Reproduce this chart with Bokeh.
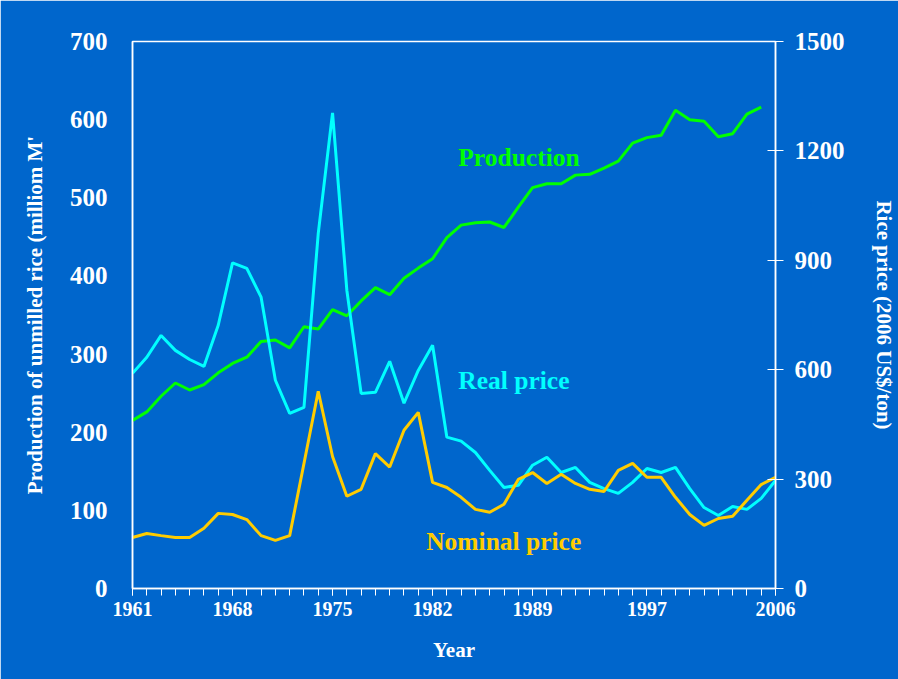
from bokeh.plotting import figure
from bokeh.models import Range1d, LinearAxis, FixedTicker, Label
from bokeh.embed import file_html
from bokeh.resources import INLINE

# ---- data ----
years = list(range(1961, 2007))
prod_years = list(range(1961, 2006))
production = [215, 226, 246, 263, 254, 261, 276, 288, 296, 316, 318, 308, 335, 332, 357,
              349, 368, 385, 376, 397, 410, 422, 449, 465, 468, 469, 462, 488, 513, 518,
              518, 529, 530, 538, 547, 570, 577, 580, 612, 600, 598, 578, 582, 607, 616]
real_price = [590, 634, 694, 653, 628, 609, 722, 893, 878, 799, 571, 480, 497, 974, 1304,
              818, 535, 538, 623, 508, 598, 667, 415, 404, 373, 324, 277, 283, 338, 360,
              318, 332, 291, 274, 261, 291, 329, 318, 332, 274, 222, 200, 225, 217, 247, 296]
nominal_price = [140, 151, 145, 140, 140, 165, 206, 203, 189, 145, 132, 145, 343, 541, 362,
                 253, 272, 370, 333, 434, 483, 291, 277, 250, 217, 209, 231, 299, 318, 288,
                 313, 288, 272, 266, 324, 343, 305, 305, 250, 203, 173, 192, 198, 242, 285, 305]
x_ticks = [1961, 1968, 1975, 1982, 1989, 1997, 2006]
left_ticks = [0, 100, 200, 300, 400, 500, 600, 700]
right_ticks = [0, 300, 600, 900, 1200, 1500]

BG = "#0066CC"
FONT = "Liberation Serif"

p = figure(width=898, height=679, x_range=Range1d(1961, 2006), y_range=Range1d(0, 700),
           output_backend="svg", toolbar_location=None,
           background_fill_color=BG, border_fill_color=BG,
           min_border_left=132, min_border_right=118, min_border_top=41, min_border_bottom=91)
p.grid.visible = False
p.outline_line_color = "white"
p.outline_line_width = 1.5
p.extra_y_ranges = {"price": Range1d(0, 1500)}

# bottom axis
xa = p.xaxis[0]
xa.ticker = FixedTicker(ticks=x_ticks, minor_ticks=years)
xa.axis_label = "Year"
xa.axis_line_color = "white"
xa.axis_line_width = 1.5
xa.major_tick_line_color = "white"
xa.minor_tick_line_color = "white"
xa.major_tick_in = 0
xa.major_tick_out = 7
xa.minor_tick_in = 0
xa.minor_tick_out = 7
xa.major_label_text_font = FONT
xa.major_label_text_font_style = "bold"
xa.major_label_text_font_size = "20px"
xa.major_label_text_color = "white"
xa.major_label_standoff = 6
xa.axis_label_text_font = FONT
xa.axis_label_text_font_style = "bold"
xa.axis_label_text_font_size = "21px"
xa.axis_label_text_color = "white"
xa.axis_label_standoff = 19

# left axis
ya = p.yaxis[0]
ya.ticker = FixedTicker(ticks=left_ticks)
ya.axis_label = "Production of unmilled rice (milliom M'"
ya.axis_line_color = "white"
ya.axis_line_width = 1.5
ya.major_tick_line_color = None
ya.minor_tick_line_color = None
ya.major_label_text_font = FONT
ya.major_label_text_font_style = "bold"
ya.major_label_text_font_size = "25px"
ya.major_label_text_color = "white"
ya.major_label_standoff = 19
ya.axis_label_text_font = FONT
ya.axis_label_text_font_style = "bold"
ya.axis_label_text_font_size = "21px"
ya.axis_label_text_color = "white"
ya.axis_label_standoff = 20

# right axis
ra = LinearAxis(y_range_name="price", ticker=FixedTicker(ticks=right_ticks),
                axis_label="Rice price (2006 US$/ton)")
ra.axis_line_color = "white"
ra.axis_line_width = 1.5
ra.major_tick_line_color = "white"
ra.major_tick_in = 8
ra.major_tick_out = 8
ra.minor_tick_line_color = None
ra.major_label_text_font = FONT
ra.major_label_text_font_style = "bold"
ra.major_label_text_font_size = "25px"
ra.major_label_text_color = "white"
ra.major_label_standoff = 11
ra.axis_label_text_font = FONT
ra.axis_label_text_font_style = "bold"
ra.axis_label_text_font_size = "21px"
ra.axis_label_text_color = "white"
ra.axis_label_standoff = 24
p.add_layout(ra, "right")

# lines
p.line(prod_years, production, line_color="#00FF00", line_width=3)
p.line(years, real_price, y_range_name="price", line_color="#00FFFF", line_width=3)
p.line(years, nominal_price, y_range_name="price", line_color="#FFCC00", line_width=3)

# series labels
for txt, x, y, col in [("Production", 1983.8, 551, "#00FF00"),
                       ("Real price", 1983.8, 266, "#00FFFF"),
                       ("Nominal price", 1981.55, 60, "#FFCC00")]:
    p.add_layout(Label(x=x, y=y, text=txt, text_color=col, text_font=FONT,
                       text_font_style="bold", text_font_size="25.5px",
                       text_align="left", text_baseline="middle"))

open("out.html", "w").write(file_html(p, INLINE))
